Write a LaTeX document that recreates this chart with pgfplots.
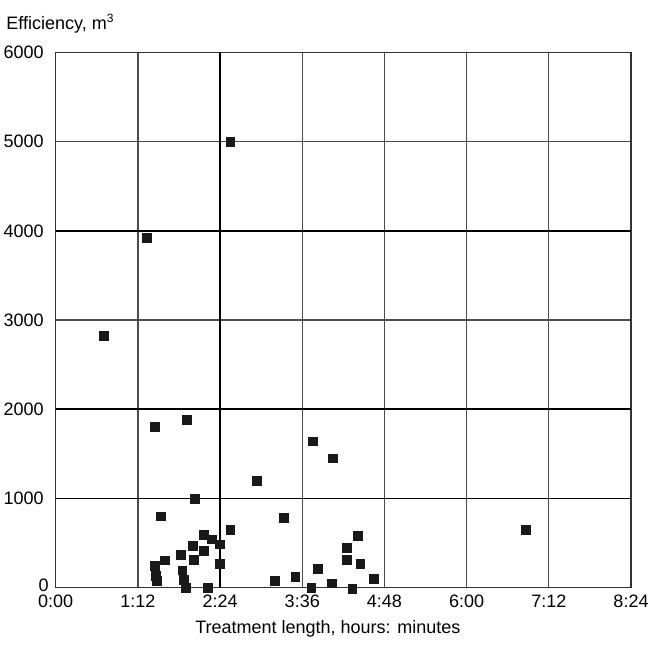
\documentclass[border=0pt]{standalone}
\usepackage{pgfplots}
\pgfplotsset{compat=1.18}
\usepackage{fontspec}
\setmainfont{Liberation Sans}
\begin{document}
\begin{tikzpicture}[font=\fontsize{9}{11}\selectfont]
\begin{axis}[
  at={(0,0)}, anchor=south west,
  scale only axis, width=287.65pt, height=267.6pt,
  xmin=0, xmax=504, ymin=0, ymax=6000,
  xtick={0,72,144,216,288,360,432,504},
  xticklabels={0:00,1:12,2:24,3:36,4:48,6:00,7:12,8:24},
  ytick={0,1000,2000,3000,4000,5000,6000},
  yticklabels={\raisebox{2.8pt}{0\hspace*{-2.5pt}},1000,2000,3000,4000,5000,6000},
  /pgf/number format/assume math mode=true,
  /pgf/number format/set thousands separator={},
  scaled y ticks=false,
  grid=major,
  major grid style={black!70, line width=0.65pt},
  axis line style={black!80, line width=0.7pt},
  major tick length=0pt,
  extra x ticks={144}, extra x tick labels={},
  extra y ticks={1000,2000,4000}, extra y tick labels={},
  extra tick style={grid=major, major grid style={black, line width=0.9pt}},
  clip=false,
  yticklabel style={xshift=-2.5pt},
  xlabel={Treatment length, hours: minutes},
  xlabel style={at={(rel axis cs:0.473,0)}, anchor=base, yshift=-22.65pt, inner sep=0pt},
  ylabel={Efficiency, m\textsuperscript{3}},
  ylabel style={rotate=-90, at={(rel axis cs:0,1)}, anchor=base west, xshift=-24.85pt, yshift=11.25pt, inner sep=0pt},
]
\addplot[only marks, mark=square*, mark size=2.2pt, color=black!90] coordinates {
(42,2820) (80,3920) (153,5000) (87,1800) (115,1880) (122,1000) (92,800)
(176,1200) (200,780) (225,1640) (243,1450) (153,650)
(130,594) (137,542) (144,486) (120,471) (110,370) (130,415) (121,311)
(96,307) (144,269) (87,243) (111,195) (88,135) (89,72) (112,86)
(114,-5) (133,-3) (192,78) (210,120) (224,0) (230,213) (242,49)
(255,449) (264.5,583) (255,311) (267,266) (260,-10) (279,97) (412,647)
};
\end{axis}
\pgfresetboundingbox
\path (-27.85pt,-28.15pt) rectangle (298.15pt,293.85pt);
\end{tikzpicture}
\end{document}
